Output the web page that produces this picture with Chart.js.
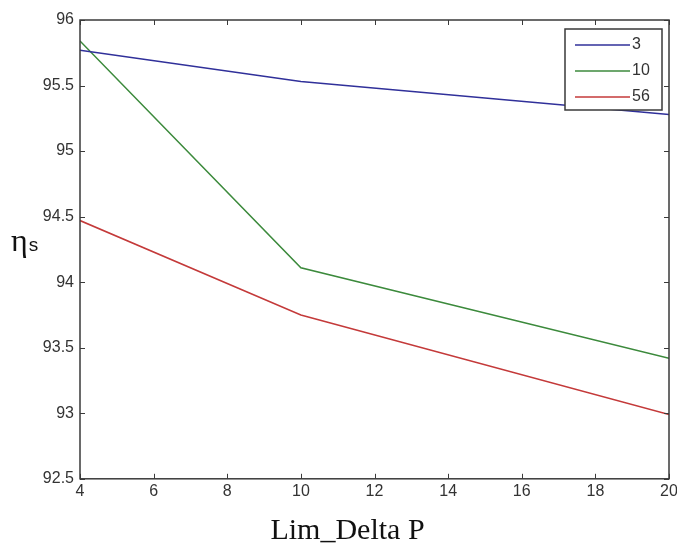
<!DOCTYPE html>
<html>
<head>
<meta charset="utf-8">
<script src="https://cdn.jsdelivr.net/npm/chart.js@4.4.1/dist/chart.umd.min.js"></script>
<style>
  html, body { margin: 0; padding: 0; background: #fff; }
  #wrap { width: 677px; height: 549px; }
</style>
</head>
<body>
<div id="wrap"><canvas id="effChart" width="677" height="549"></canvas></div>
<script>
// chart values
var limDeltaP = [4, 10, 20];
var eta3 = [95.77, 95.53, 95.28];
var eta10 = [95.84, 94.11, 93.42];
var eta56 = [94.47, 93.75, 92.99];
var seriesNames = ["3", "10", "56"];
var xTicks = [4, 6, 8, 10, 12, 14, 16, 18, 20];
var yTicks = [92.5, 93, 93.5, 94, 94.5, 95, 95.5, 96];

var axisColor = "#3a3a3a";
var labelFont = "Liberation Sans, Arial, sans-serif";

function toPoints(ys) {
    return limDeltaP.map(function (x, i) { return { x: x, y: ys[i] }; });
}

// MATLAB style frame: box around the axes and ticks pointing inward on all sides
var framePlugin = {
    id: "frame",
    afterDatasetsDraw: function (chart) {
        var ctx = chart.ctx;
        var a = chart.chartArea;
        var xs = chart.scales.x, ys = chart.scales.y;
        ctx.save();
        ctx.strokeStyle = axisColor;
        ctx.lineWidth = 1.5;
        ctx.strokeRect(a.left, a.top, a.right - a.left, a.bottom - a.top);
        ctx.lineWidth = 1;
        var len = 5;
        ctx.beginPath();
        xTicks.forEach(function (t) {
            var px = Math.round(xs.getPixelForValue(t)) + 0.5;
            ctx.moveTo(px, a.bottom); ctx.lineTo(px, a.bottom - len);
            ctx.moveTo(px, a.top); ctx.lineTo(px, a.top + len);
        });
        yTicks.forEach(function (t) {
            var py = Math.round(ys.getPixelForValue(t)) + 0.5;
            ctx.moveTo(a.left, py); ctx.lineTo(a.left + len, py);
            ctx.moveTo(a.right, py); ctx.lineTo(a.right - len, py);
        });
        ctx.stroke();

        // y label, horizontal eta with subscript s
        var cy = (a.top + a.bottom) / 2 - 4;
        ctx.fillStyle = "#111";
        ctx.textBaseline = "alphabetic";
        ctx.textAlign = "left";
        ctx.font = "32px 'Liberation Serif', 'Times New Roman', serif";
        ctx.fillText("\u03b7", 11, cy + 6);
        var w = ctx.measureText("\u03b7").width;
        ctx.font = "19px 'Liberation Sans', Arial, sans-serif";
        ctx.fillText("s", 11 + w + 1, cy + 6);

        // legend box in upper right corner
        var bw = 97, bh = 81;
        var bx = a.right - 7 - bw, by = a.top + 9;
        ctx.fillStyle = "#fff";
        ctx.fillRect(bx, by, bw, bh);
        ctx.strokeStyle = axisColor;
        ctx.lineWidth = 1.5;
        ctx.strokeRect(bx, by, bw, bh);
        ctx.font = "16px " + labelFont;
        ctx.textBaseline = "middle";
        chart.data.datasets.forEach(function (ds, i) {
            var ry = by + 16 + i * 26;
            ctx.strokeStyle = ds.borderColor;
            ctx.lineWidth = 1.5;
            ctx.beginPath();
            ctx.moveTo(bx + 10, ry);
            ctx.lineTo(bx + 65, ry);
            ctx.stroke();
            ctx.fillStyle = "#333";
            ctx.fillText(ds.label, bx + 67, ry);
        });
        ctx.restore();
    }
};

var ctx = document.getElementById("effChart").getContext("2d");
var effChart = new Chart(ctx, {
    type: "line",
    data: {
        datasets: [
            { label: seriesNames[0], data: toPoints(eta3), borderColor: "#30309a", borderWidth: 1.5, pointRadius: 0, tension: 0 },
            { label: seriesNames[1], data: toPoints(eta10), borderColor: "#3c8a3c", borderWidth: 1.5, pointRadius: 0, tension: 0 },
            { label: seriesNames[2], data: toPoints(eta56), borderColor: "#c43a3a", borderWidth: 1.5, pointRadius: 0, tension: 0 }
        ]
    },
    options: {
        responsive: false,
        animation: false,
        layout: { padding: { left: 18, top: 20, right: 0, bottom: 0 } },
        plugins: {
            legend: { display: false },
            tooltip: { enabled: false },
            title: {
                display: true,
                position: "bottom",
                text: "Lim_Delta P",
                color: "#111",
                font: { family: "'Liberation Serif', 'Times New Roman', serif", size: 30, weight: "normal" },
                padding: { top: 9, bottom: 0 }
            }
        },
        scales: {
            x: {
                type: "linear",
                min: 4,
                max: 20,
                afterBuildTicks: function (s) { s.ticks = xTicks.map(function (v) { return { value: v }; }); },
                afterFit: function (s) { s.paddingRight = 8; },
                grid: { display: false, drawTicks: false },
                border: { display: false },
                ticks: { color: "#333", font: { family: labelFont, size: 16 }, padding: 3, maxRotation: 0,
                         callback: function (v) { return String(v); } }
            },
            y: {
                min: 92.5,
                max: 96,
                afterBuildTicks: function (s) { s.ticks = yTicks.map(function (v) { return { value: v }; }); },
                afterFit: function (s) { s.width = 62; },
                grid: { display: false, drawTicks: false },
                border: { display: false },
                ticks: { color: "#333", font: { family: labelFont, size: 16 }, padding: 6,
                         callback: function (v) { return String(v); } }
            }
        }
    },
    plugins: [framePlugin]
});
</script>
</body>
</html>
